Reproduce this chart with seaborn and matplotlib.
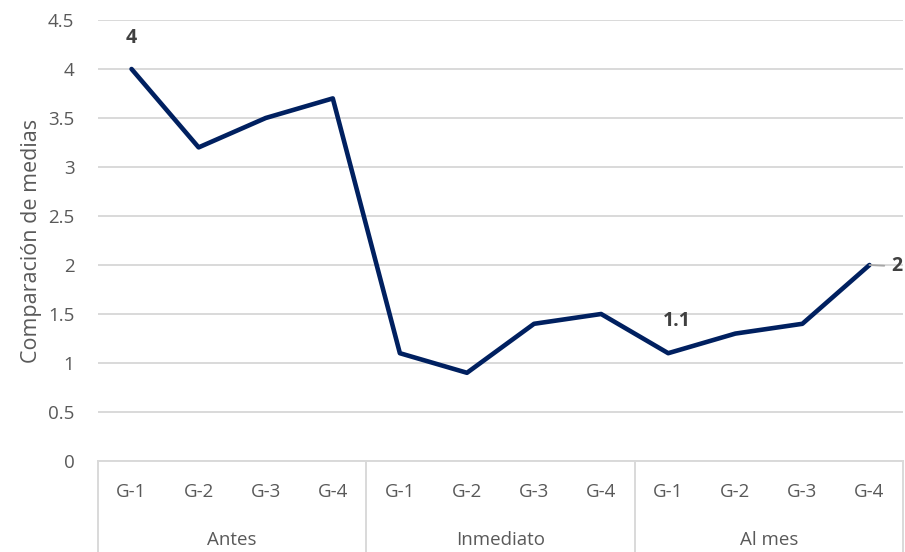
import pandas as pd
import matplotlib.pyplot as plt
import matplotlib.transforms as mtransforms
import seaborn as sns

# Datos del gráfico
grupos = ['Antes', 'Inmediato', 'Al mes']
subgrupos = ['G-1', 'G-2', 'G-3', 'G-4']
antes = [4.0, 3.2, 3.5, 3.7]
inmediato = [1.1, 0.9, 1.4, 1.5]
al_mes = [1.1, 1.3, 1.4, 2.0]

valores = antes + inmediato + al_mes
claves = [f'{g} {s}' for g in grupos for s in subgrupos]
df = pd.DataFrame({'clave': claves, 'media': valores})

sns.set_style('white')
plt.rcParams['font.family'] = ['Open Sans', 'DejaVu Sans']

fig = plt.figure(figsize=(9.05, 5.52), dpi=100)
ax = fig.add_axes([98 / 905, 91 / 552, 805 / 905, 441 / 552])

gris = '#595959'
linea = '#d9d9d9'

sns.lineplot(data=df, x='clave', y='media', color='#002060', linewidth=3.3,
             sort=False, ax=ax, zorder=3)

ax.set_xlim(-0.5, len(claves) - 0.5)
ax.set_ylim(0, 4.5)
ax.set_yticks([i * 0.5 for i in range(10)])
ax.set_yticklabels(['0', '0.5', '1', '1.5', '2', '2.5', '3', '3.5', '4', '4.5'])
ax.yaxis.grid(True, color=linea, linewidth=1.4)
ax.set_axisbelow(True)

ax.set_xticks(range(len(claves)))
ax.set_xticklabels(subgrupos * len(grupos))
ax.tick_params(axis='x', length=0, pad=16, labelsize=13.5, labelcolor=gris)
ax.tick_params(axis='y', length=0, pad=17, labelsize=13.5, labelcolor=gris)

for lado in ['left', 'right', 'top']:
    ax.spines[lado].set_visible(False)
ax.spines['bottom'].set_color(linea)
ax.spines['bottom'].set_linewidth(1.4)

ax.set_xlabel('')
ax.set_ylabel('Comparación de medias', fontsize=15.5, color=gris, labelpad=4)

# Eje de categorías en dos niveles
trans = mtransforms.blended_transform_factory(ax.transData, ax.transAxes)
n = len(subgrupos)
for i in range(len(grupos) + 1):
    xs = i * n - 0.5
    ax.plot([xs, xs], [0, -0.25], transform=trans, color=linea,
            linewidth=1.4, clip_on=False)
for i, g in enumerate(grupos):
    ax.text(i * n + (n - 1) / 2, -0.18, g, transform=trans, ha='center',
            va='center', fontsize=13.5, color=gris)

# Etiquetas de datos
ax.annotate('4', xy=(0, antes[0]), xytext=(0, 22), textcoords='offset points',
            ha='center', va='center', fontsize=14, fontweight='bold', color='#404040')
ax.annotate('1.1', xy=(8, al_mes[0]), xytext=(6, 23), textcoords='offset points',
            ha='center', va='center', fontsize=14, fontweight='bold', color='#404040')
ax.annotate('2', xy=(11, al_mes[3]), xytext=(20, -1), textcoords='offset points',
            ha='center', va='center', fontsize=14, fontweight='bold', color='#404040',
            arrowprops=dict(arrowstyle='-', color='#a6a6a6', linewidth=1.3,
                            shrinkA=3, shrinkB=0))

plt.savefig('out.png', dpi=100)
